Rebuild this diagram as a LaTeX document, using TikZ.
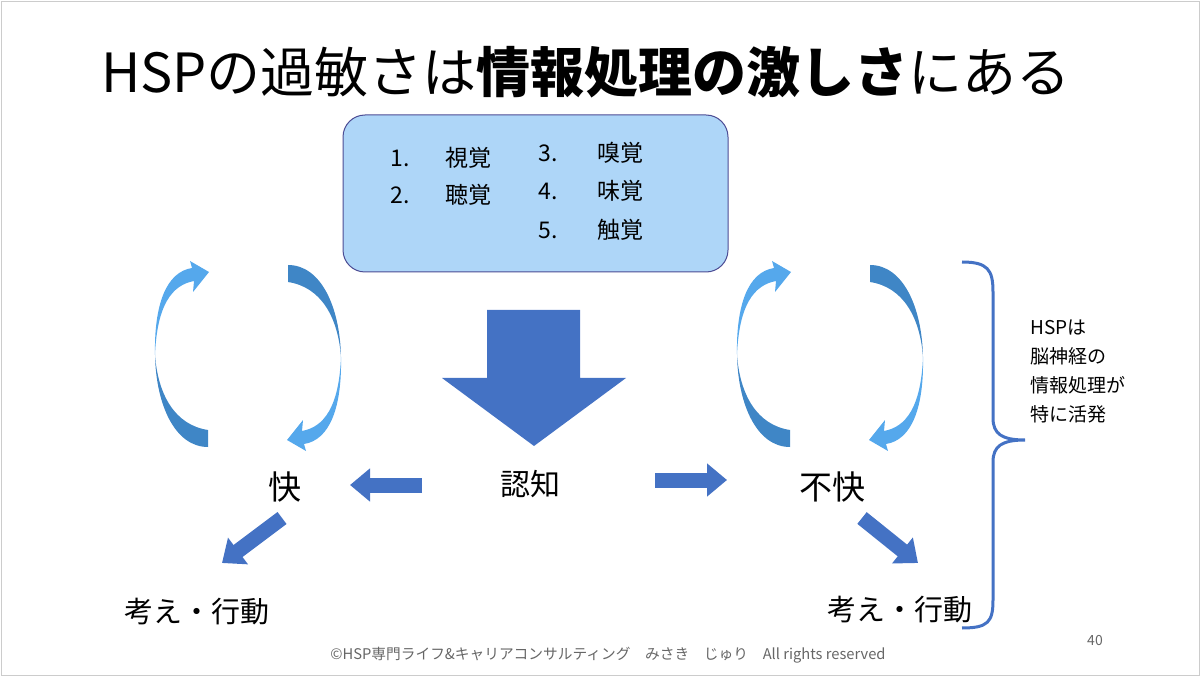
\documentclass[tikz,border=0pt]{standalone}
\usepackage{fontspec}
\setmainfont{Noto Sans CJK JP}
\usetikzlibrary{arrows.meta}
\definecolor{mblue}{HTML}{4472C4}
\definecolor{lblue}{HTML}{55A8EC}
\definecolor{dblue}{HTML}{3F86C6}
\definecolor{boxf}{HTML}{AED6F8}
\tikzset{
 fs/.style={font=\fontsize{#1}{#1}\selectfont},
 lbl/.style={inner sep=0pt},
 fat/.style={line width=15pt,-{Triangle[length=20pt 0,width=32pt 0]},fill=mblue,draw=mblue},
 pics/crescent/.style={code={
  \fill[dblue] (208,430) .. controls (175,425) and (158,395) .. (155,355)
     .. controls (156,405) and (175,447) .. (208,447) -- cycle;
  \fill[lblue] (155,355) .. controls (157,305) and (172,285) .. (194,281)
     -- (193,292) -- (209,272) -- (190,261) -- (192,268)
     .. controls (166,272) and (154,305) .. (155,355) -- cycle;
 }}
}
\begin{document}
\begin{tikzpicture}[x=1pt,y=-1pt]
\useasboundingbox (0,0) rectangle (1200,676);
\draw[gray!40] (1,1) rectangle (1199,675);
\node[lbl,fs=54,anchor=center] (title) at (586,72) {HSPの過敏さは\textbf{情報処理の激しさ}にある};
\node[draw=black!60!blue!70,fill=boxf,rounded corners=22pt,minimum width=385pt,minimum height=157pt,line width=1pt] (box) at (535.5,193.5) {};
\begin{scope}[fs=23]
\node[lbl] (n1) at (400,158) {1.}; \node[lbl] (t1) at (468,158) {視覚};
\node[lbl] (n2) at (400,195) {2.}; \node[lbl] (t2) at (468,195) {聴覚};
\node[lbl] (n3) at (548,153) {3.}; \node[lbl] (t3) at (620,153) {嗅覚};
\node[lbl] (n4) at (548,191) {4.}; \node[lbl] (t4) at (620,191) {味覚};
\node[lbl] (n5) at (548,230) {5.}; \node[lbl] (t5) at (620,230) {触覚};
\end{scope}
\fill[mblue] (487,310) -- (580,310) -- (580,378) -- (626,378) -- (534,446) -- (442,378) -- (487,378) -- cycle;
\node[lbl,fs=30] (ninchi) at (530,484) {認知};
\node[lbl,fs=33] (kai) at (285,487) {快};
\node[lbl,fs=33] (fukai) at (832,487) {不快};
\node[lbl,fs=29] (k1) at (197,612) {考え・行動};
\node[lbl,fs=29] (k2) at (900,610) {考え・行動};
\coordinate (a1) at (422,485); \coordinate (a1e) at (350,485);
\coordinate (a2) at (655,480); \coordinate (a2e) at (727,480);
\coordinate (a3) at (282,518); \coordinate (a3e) at (222,563);
\coordinate (a4) at (862,518); \coordinate (a4e) at (918,563);
\draw[fat] (a1) -- (a1e);
\draw[fat] (a2) -- (a2e);
\draw[fat] (a3) -- (a3e);
\draw[fat] (a4) -- (a4e);
\pic at (0,0) {crescent};
\pic[rotate around={180:(248,356)}] at (0,0) {crescent};
\pic at (582,0) {crescent};
\pic[shift={(582,0)},rotate around={180:(248,356)}] at (0,0) {crescent};
\draw[mblue,line width=3pt] (962,262) .. controls (988,262) and (993,270) .. (993,292) -- (993,418)
  .. controls (993,434) and (1002,440) .. (1025,440)
  .. controls (1002,440) and (993,446) .. (993,462) -- (993,600)
  .. controls (993,622) and (988,628) .. (962,628);
\begin{scope}[fs=19]
\node[lbl,anchor=west] (h1) at (1030,328) {HSPは};
\node[lbl,anchor=west] (h2) at (1030,356) {脳神経の};
\node[lbl,anchor=west] (h3) at (1030,385) {情報処理が};
\node[lbl,anchor=west] (h4) at (1030,414) {特に活発};
\end{scope}
\node[lbl,fs=14.7,text=black!60] (foot) at (608,655) {©HSP専門ライフ\&キャリアコンサルティング\quad みさき\quad じゅり\quad All rights reserved};
\node[lbl,fs=14,text=black!60] (pg) at (1095,641) {40};
\end{tikzpicture}
\end{document}
